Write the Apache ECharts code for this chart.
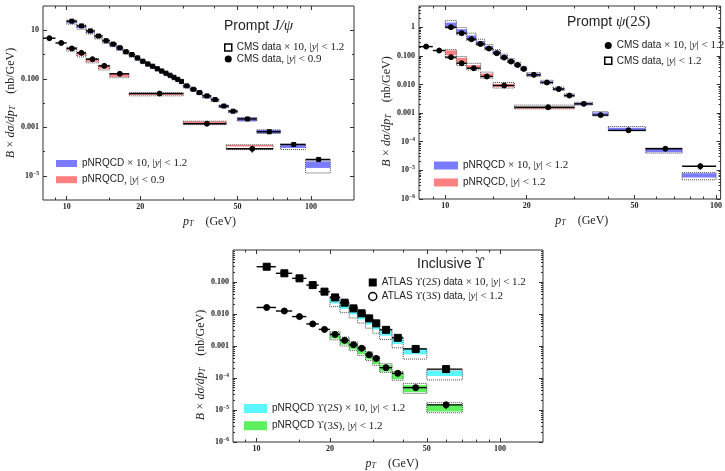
<!DOCTYPE html>
<html lang="en">
<head>
<meta charset="utf-8">
<title>Prompt J/psi, psi(2S) and inclusive Upsilon cross sections</title>
<script src="https://cdn.jsdelivr.net/npm/echarts@6/dist/echarts.min.js"></script>
<style>
    html, body { margin: 0; padding: 0; background: #fff; }
    #main { width: 725px; height: 471px; }
</style>
</head>
<body>
<div id="main"></div>
<script type="text/javascript">
    // ---- Prompt J/psi (top left) ----
    var jpsiEdges12 = [10,11,12,13,14,15,16,17,18,19,20,21,22,23,24,25,26,27,28,29,30,32,34,36,39,42,46,50,60,75,95,120];
    var jpsiData12 = [23.7,15.1,9.4,5.8,3.7,2.7,1.9,1.3,1.0,0.73,0.53,0.41,0.33,0.26,0.21,0.17,0.14,0.115,0.095,0.078,0.051,0.037,0.027,0.0196,0.0138,0.0075,0.0046,0.0022,6.5e-4,1.95e-4,4.7e-5];
    var jpsiErr12 = [0.6,0.4,0.25,0.15,0.1,0.07,0.05,0.035,0.027,0.02,0.014,0.011,0.009,0.007,0.006,0.005,0.004,0.0035,0.003,0.0025,0.0017,0.0013,0.001,0.0008,0.0006,0.0004,0.00025,0.00013,4.5e-5,1.6e-5,7e-6];
    var jpsiBandLo12 = [17.8,11,7.0,4.4,2.9,2.1,1.5,1.05,0.78,0.57,0.42,0.32,0.26,0.205,0.165,0.135,0.11,0.09,0.075,0.062,0.042,0.031,0.022,0.016,0.0115,0.0064,0.0039,0.0018,5.6e-4,1.2e-4,1.3e-5];
    var jpsiBandHi12 = [26,16.6,10.3,6.4,4.1,2.95,2.1,1.45,1.08,0.79,0.58,0.44,0.35,0.28,0.225,0.182,0.148,0.122,0.1,0.083,0.055,0.04,0.029,0.021,0.015,0.0082,0.005,0.0025,7.8e-4,2.0e-4,4.2e-5];
    var jpsiFillLo12 = [19.5,12.3,7.8,4.9,3.2,null,null,null,null,null,null,null,null,null,null,null,null,null,null,null,null,null,null,null,null,null,null,null,null,1.4e-4,2.1e-5];
    var jpsiFillHi12 = [24.5,15.5,9.6,6.0,3.9,null,null,null,null,null,null,null,null,null,null,null,null,null,null,null,null,null,null,null,null,null,null,null,null,1.95e-4,3.9e-5];

    var jpsiEdges09 = [8,9,10,11,12,13.5,15,18,30,45,70];
    var jpsiData09 = [4.7,3.0,1.78,1.17,0.64,0.34,0.16,0.0245,0.0014,1.3e-4];
    var jpsiErr09 = [0.15,0.1,0.07,0.05,0.03,0.015,0.008,0.0012,0.00012,0.00004];
    var jpsiBandEdges09 = [10,11,12,13.5,15,18,30,45,70];
    var jpsiBandLo09 = [1.37,0.80,0.45,0.23,0.11,0.0198,0.00128,1.2e-4];
    var jpsiBandHi09 = [2.0,1.25,0.68,0.36,0.165,0.026,0.00178,1.9e-4];
    var jpsiFillLo09 = [1.55,0.9,0.5,0.26,0.12,0.0215,0.00145,1.6e-4];
    var jpsiFillHi09 = [1.9,1.18,0.64,0.34,0.158,0.0245,0.00172,1.85e-4];

    // ---- Prompt psi(2S) (top right) ----
    var psiEdges12x = [10,11,12,13,14,15,16,17,18,19,20,22.5,25,27.5,30,35,40,55,75,100];
    var psiData12x = [1.0,0.62,0.38,0.26,0.18,0.124,0.087,0.063,0.048,0.035,0.0217,0.0117,0.0069,0.0041,0.0021,8.5e-4,2.5e-4,5.7e-5,1.4e-5];
    var psiErr12x = [0.05,0.03,0.02,0.013,0.009,0.006,0.0045,0.0033,0.0025,0.0019,0.0012,0.0007,0.0004,0.00025,0.00013,6e-5,2.2e-5,8e-6,3.5e-6];
    var psiBandLo12x = [0.92,0.54,0.34,0.23,0.16,0.11,0.077,0.056,0.042,0.031,0.019,0.0105,0.0062,0.0037,0.0019,8.0e-4,2.4e-4,4.0e-5,4.7e-6];
    var psiBandHi12x = [1.7,0.97,0.62,0.38,0.25,0.165,0.115,0.08,0.06,0.043,0.026,0.014,0.0081,0.0047,0.0024,1.13e-3,3.4e-4,6.0e-5,8.4e-6];
    var psiFillLo12x = [1.0,0.6,0.37,0.25,0.17,0.115,0.08,0.058,0.044,0.032,0.02,0.011,0.0065,0.0038,0.00195,8.4e-4,2.5e-4,4.3e-5,5.6e-6];
    var psiFillHi12x = [1.45,0.85,0.52,0.33,0.22,0.15,0.105,0.074,0.055,0.04,0.024,0.013,0.0076,0.0044,0.0023,1.05e-3,3.1e-4,5.6e-5,8.0e-6];

    var psiEdges12 = [8,9,10,11,12,13.5,15,18,30];
    var psiData12 = [0.21,0.153,0.09,0.055,0.037,0.019,0.0092,0.0016];
    var psiErr12 = [0.012,0.008,0.006,0.004,0.0025,0.0013,0.0007,0.00015];
    var psiBandEdges12 = [10,11,12,13.5,15,18,30];
    var psiBandLo12 = [0.083,0.046,0.032,0.0165,0.0075,0.0014];
    var psiBandHi12 = [0.165,0.094,0.055,0.027,0.0117,0.0019];
    var psiFillLo12 = [0.105,0.058,0.036,0.0185,0.0082,0.00142];
    var psiFillHi12 = [0.155,0.085,0.047,0.024,0.0105,0.00152];

    // ---- Inclusive Upsilon (bottom) ----
    var upsEdges = [10,12,14,16,18,20,22,24,26,28,30,32,36,40,50,70];
    var ups2S = [0.30,0.187,0.13,0.08,0.05,0.033,0.0226,0.015,0.0105,0.0073,0.0051,0.0032,0.0018,8.1e-4,1.9e-4];
    var ups2SErr = [0.02,0.012,0.008,0.005,0.003,0.002,0.0014,0.001,0.0007,0.0005,0.00035,0.00025,0.00015,8e-5,3e-5];
    var ups3S = [0.016,0.0124,0.0083,0.0049,0.0033,0.0023,0.0015,0.0011,8.5e-4,5.3e-4,4.1e-4,2.1e-4,1.4e-4,5.0e-5,1.45e-5];
    var ups3SErr = [0.001,0.0008,0.0006,0.0004,0.0003,0.0002,0.00014,0.0001,8e-5,6e-5,5e-5,3e-5,2.5e-5,8e-6,3.5e-6];
    var upsBandEdges = [20,22,24,26,28,30,32,36,40,50,70];
    var band2SLo = [0.017,0.011,0.0075,0.0052,0.0036,0.0025,0.0016,0.00088,3.9e-4,8.7e-5];
    var band2SHi = [0.035,0.024,0.016,0.011,0.0077,0.0054,0.0034,0.0019,8.4e-4,1.8e-4];
    var fill2SLo = [0.0216,0.0145,0.0098,0.0068,0.0047,0.0033,0.0021,0.00115,5.5e-4,1.15e-4];
    var fill2SHi = [0.031,0.021,0.014,0.0098,0.0068,0.0047,0.003,0.0017,8.1e-4,1.7e-4];
    var band3SLo = [0.00155,0.001,7.2e-4,5.0e-4,3.5e-4,2.5e-4,1.5e-4,8.5e-5,3.3e-5,8.2e-6];
    var band3SHi = [0.0028,0.0019,0.00135,9.5e-4,6.6e-4,4.7e-4,2.8e-4,1.6e-4,6.8e-5,1.7e-5];
    var fill3SLo = [0.0017,0.0011,7.9e-4,5.5e-4,3.8e-4,2.7e-4,1.6e-4,9.2e-5,3.6e-5,9e-6];
    var fill3SHi = [0.0026,0.0017,0.00125,8.8e-4,6.1e-4,4.4e-4,2.6e-4,1.5e-4,6.0e-5,1.5e-5];

    var blue = '#7b7bff', red = '#ff8080', cyan = '#5cf6ff', green = '#5ff05f';

    // rows: [x0, x1, xc, value, value-err, value+err]
    function binRows(edges, vals, errs) {
        return vals.map(function (v, i) {
            var x0 = edges[i], x1 = edges[i + 1];
            return [x0, x1, (x0 + x1) / 2, v, v - errs[i], v + errs[i]];
        });
    }
    // rows: [x0, x1, boxLo, boxHi, fillLo, fillHi]
    function bandRows(edges, lo, hi, flo, fhi) {
        return lo.map(function (l, i) {
            var a = (flo && flo[i] != null) ? flo[i] : l;
            var b = (fhi && fhi[i] != null) ? fhi[i] : hi[i];
            return [edges[i], edges[i + 1], l, hi[i], a, b];
        });
    }

    function bandRender(color) {
        return function (params, api) {
            var p0 = api.coord([api.value(0), api.value(3)]);
            var p1 = api.coord([api.value(1), api.value(2)]);
            var f0 = api.coord([api.value(0), api.value(5)]);
            var f1 = api.coord([api.value(1), api.value(4)]);
            var box = {x: p0[0], y: p0[1], width: p1[0] - p0[0], height: p1[1] - p0[1]};
            return {
                type: 'group',
                children: [
                    {type: 'rect', shape: box, style: {fill: '#fff'}},
                    {type: 'rect', shape: {x: f0[0], y: f0[1], width: f1[0] - f0[0], height: f1[1] - f0[1]}, style: {fill: color}},
                    {type: 'rect', shape: box, style: {fill: null, stroke: '#333', lineWidth: 0.9, lineDash: [1, 1]}}
                ]
            };
        };
    }

    function dataRender(params, api) {
        var a = api.coord([api.value(0), api.value(3)]);
        var b = api.coord([api.value(1), api.value(3)]);
        var lo = api.coord([api.value(2), api.value(4)]);
        var hi = api.coord([api.value(2), api.value(5)]);
        var st = {stroke: '#000', lineWidth: 1.4};
        return {
            type: 'group',
            children: [
                {type: 'line', shape: {x1: a[0], y1: a[1], x2: b[0], y2: b[1]}, style: st},
                {type: 'line', shape: {x1: lo[0], y1: lo[1], x2: hi[0], y2: hi[1]}, style: st}
            ]
        };
    }

    var tickStyle = {fontFamily: 'Liberation Serif', fontWeight: 'bold', fontSize: 8, color: '#222'};
    var labelRich = {
        b: {fontFamily: 'Liberation Serif', fontWeight: 'bold', fontSize: 8, color: '#222'},
        e: {fontFamily: 'Liberation Serif', fontWeight: 'bold', fontSize: 5.5, color: '#222', padding: [0, 0, 5, 0]}
    };
    var nameRich = {
        m: {fontFamily: 'Liberation Serif', fontStyle: 'italic', fontSize: 12, color: '#222'},
        n: {fontFamily: 'Liberation Serif', fontSize: 12, color: '#222'},
        sub: {fontFamily: 'Liberation Serif', fontStyle: 'italic', fontSize: 8, color: '#222', padding: [5, 0, 0, 0]}
    };

    function yLabel(v) {
        var e = Math.round(Math.log10(v));
        if (e >= 1) return String(Math.round(v));
        if (e === 0) return '1';
        if (e >= -3) return v.toFixed(3);
        return '{b|10}{e|\u2212' + (-e) + '}';
    }

    var xAxes = [], yAxes = [];
    function tick(vals, len) {
        return {show: true, inside: true, length: len, customValues: vals, lineStyle: {color: '#333', width: 1}};
    }
    function addPanel(p) {
        var xi = xAxes.length, yi = yAxes.length;
        var common = {type: 'log', logBase: 10, gridIndex: p.grid, axisLine: {show: false}, splitLine: {show: false}};
        var xc = Object.assign({}, common, {min: p.xMin, max: p.xMax});
        var yc = Object.assign({}, common, {min: p.yMin, max: p.yMax});
        var xMajor = [10, 20, 50, 100];
        xAxes.push(Object.assign({}, xc, {
            position: 'bottom', axisTick: tick(xMajor, 4),
            axisLabel: Object.assign({customValues: xMajor, margin: 3}, tickStyle),
            name: '{m|p}{sub|T}{n|    (GeV)}', nameLocation: 'middle', nameGap: 15,
            nameTextStyle: {rich: nameRich, padding: [0, 0, 0, p.xShift * 2]}
        }));
        xAxes.push(Object.assign({}, xc, {position: 'top', axisTick: tick(xMajor, 4), axisLabel: {show: false}}));
        xAxes.push(Object.assign({}, xc, {position: 'bottom', axisTick: tick(p.xMinor, 2.5), axisLabel: {show: false}}));
        xAxes.push(Object.assign({}, xc, {position: 'top', axisTick: tick(p.xMinor, 2.5), axisLabel: {show: false}}));
        yAxes.push(Object.assign({}, yc, {
            position: 'left', axisTick: tick(p.yMajor, 4),
            axisLabel: Object.assign({customValues: p.yLabels, margin: 4, formatter: yLabel, rich: labelRich}, tickStyle),
            name: '{m|B} {n|\u00d7} {m|d\u03c3/dp}{sub|T}{n|    (nb/GeV)}', nameLocation: 'middle', nameGap: 26, nameRotate: 90,
            nameTextStyle: {rich: nameRich, padding: [0, p.yShift * 2, 0, 0]}
        }));
        yAxes.push(Object.assign({}, yc, {position: 'right', axisTick: tick(p.yMajor, 4), axisLabel: {show: false}}));
        yAxes.push(Object.assign({}, yc, {position: 'left', axisTick: tick(p.yMinor, 2), axisLabel: {show: false}}));
        yAxes.push(Object.assign({}, yc, {position: 'right', axisTick: tick(p.yMinor, 2), axisLabel: {show: false}}));
        return {x: xi, y: yi};
    }

    function subDecades(lo, hi) {
        var out = [];
        for (var e = lo; e < hi; e++) {
            for (var k = 2; k <= 9; k++) out.push(k * Math.pow(10, e));
        }
        return out;
    }

    var xMinor = [9, 15, 30, 40, 60, 70, 80, 90];
    var ax1 = addPanel({grid: 0, xMin: 8, xMax: 150, yMin: 1e-6, yMax: 100, xMinor: xMinor,
        yMajor: [1e-5, 1e-3, 0.1, 10], yLabels: [1e-5, 1e-3, 0.1, 10], yMinor: [1e-4, 0.01, 1],
        xShift: 11, yShift: 0});
    var ax2 = addPanel({grid: 1, xMin: 8, xMax: 104, yMin: 1e-6, yMax: 5.5, xMinor: xMinor,
        yMajor: [1e-6, 1e-5, 1e-4, 1e-3, 0.01, 0.1, 1], yLabels: [1e-6, 1e-5, 1e-4, 1e-3, 0.01, 0.1, 1],
        yMinor: subDecades(-6, 1), xShift: 12, yShift: 9});
    var ax3 = addPanel({grid: 2, xMin: 8, xMax: 150, yMin: 1e-6, yMax: 1, xMinor: xMinor,
        yMajor: [1e-6, 1e-5, 1e-4, 1e-3, 0.01, 0.1], yLabels: [1e-6, 1e-5, 1e-4, 1e-3, 0.01, 0.1],
        yMinor: subDecades(-6, 0), xShift: 4, yShift: 19});

    var series = [];
    function addBand(ax, name, color, rows) {
        series.push({
            name: name, type: 'custom', xAxisIndex: ax.x, yAxisIndex: ax.y,
            itemStyle: {color: color}, renderItem: bandRender(color),
            encode: {x: [0, 1], y: [2, 3, 4, 5]}, data: rows, clip: true, z: 2
        });
    }
    function addData(ax, name, rows, symbol, size, fill) {
        series.push({
            name: name + 'Bars', type: 'custom', xAxisIndex: ax.x, yAxisIndex: ax.y,
            renderItem: dataRender, encode: {x: [0, 1, 2], y: [3, 4, 5]}, data: rows, z: 3
        });
        series.push({
            name: name, type: 'scatter', xAxisIndex: ax.x, yAxisIndex: ax.y,
            symbol: symbol, symbolSize: size,
            itemStyle: {color: fill || '#000', borderColor: '#000', borderWidth: 1, opacity: 1},
            data: rows.map(function (r) { return [r[2], r[3]]; }), z: 4
        });
    }

    addBand(ax1, 'jpsiBand12', blue, bandRows(jpsiEdges12, jpsiBandLo12, jpsiBandHi12, jpsiFillLo12, jpsiFillHi12));
    addBand(ax1, 'jpsiBand09', red, bandRows(jpsiBandEdges09, jpsiBandLo09, jpsiBandHi09, jpsiFillLo09, jpsiFillHi09));
    addData(ax1, 'jpsiData12', binRows(jpsiEdges12, jpsiData12, jpsiErr12), 'rect', 4);
    addData(ax1, 'jpsiData09', binRows(jpsiEdges09, jpsiData09, jpsiErr09), 'circle', 5);

    addBand(ax2, 'psiBand12x', blue, bandRows(psiEdges12x, psiBandLo12x, psiBandHi12x, psiFillLo12x, psiFillHi12x));
    addBand(ax2, 'psiBand12', red, bandRows(psiBandEdges12, psiBandLo12, psiBandHi12, psiFillLo12, psiFillHi12));
    addData(ax2, 'psiData12x', binRows(psiEdges12x, psiData12x, psiErr12x), 'circle', 5);
    addData(ax2, 'psiData12', binRows(psiEdges12, psiData12, psiErr12), 'circle', 5);

    addBand(ax3, 'upsBand2S', cyan, bandRows(upsBandEdges, band2SLo, band2SHi, fill2SLo, fill2SHi));
    addBand(ax3, 'upsBand3S', green, bandRows(upsBandEdges, band3SLo, band3SHi, fill3SLo, fill3SHi));
    addData(ax3, 'ups2S', binRows(upsEdges, ups2S, ups2SErr), 'rect', 7);
    addData(ax3, 'ups3S', binRows(upsEdges, ups3S, ups3SErr), 'circle', 6);

    var legendLabels = {
        jpsiData12: '{s|CMS data }{n|\u00d7 10, |}{m|y}{n|| < 1.2}',
        jpsiData09: '{s|CMS data}{n|, |}{m|y}{n|| < 0.9}',
        jpsiBand12: '{s|pNRQCD }{n|\u00d7 10, |}{m|y}{n|| < 1.2}',
        jpsiBand09: '{s|pNRQCD}{n|, |}{m|y}{n|| < 0.9}',
        psiData12x: '{s|CMS data }{n|\u00d7 10, |}{m|y}{n|| < 1.2}',
        psiData12: '{s|CMS data}{n|, |}{m|y}{n|| < 1.2}',
        psiBand12x: '{s|pNRQCD }{n|\u00d7 10, |}{m|y}{n|| < 1.2}',
        psiBand12: '{s|pNRQCD}{n|, |}{m|y}{n|| < 1.2}',
        ups2S: '{s|ATLAS }{u|\u03d2}{n|(2}{m|S}{n|) }{s|data }{n|\u00d7 10, |}{m|y}{n|| < 1.2}',
        ups3S: '{s|ATLAS }{u|\u03d2}{n|(3}{m|S}{n|) }{s|data}{n|, |}{m|y}{n|| < 1.2}',
        upsBand2S: '{s|pNRQCD }{u|\u03d2}{n|(2}{m|S}{n|) \u00d7 10, |}{m|y}{n|| < 1.2}',
        upsBand3S: '{s|pNRQCD }{u|\u03d2}{n|(3}{m|S}{n|), |}{m|y}{n|| < 1.2}'
    };
    var legendRich = {
        s: {fontFamily: 'Liberation Sans', fontSize: 10, color: '#222', lineHeight: 13},
        n: {fontFamily: 'Liberation Serif', fontSize: 11, color: '#222', lineHeight: 13},
        m: {fontFamily: 'Liberation Serif', fontStyle: 'italic', fontSize: 11, color: '#222', lineHeight: 13},
        u: {fontFamily: 'DejaVu Serif', fontSize: 10, color: '#222', lineHeight: 13}
    };
    function makeLegend(left, top, w, h, gap, items) {
        return {
            left: left, top: top, orient: 'vertical', padding: 0, itemWidth: w, itemHeight: h, itemGap: gap,
            selectedMode: false, data: items,
            formatter: function (name) { return legendLabels[name]; },
            textStyle: {rich: legendRich}
        };
    }
    var openBox = {color: '#fff', borderColor: '#000', borderWidth: 1.5};
    var dot = {color: '#000', borderWidth: 0};

    var titleRich = {
        s: {fontFamily: 'Liberation Sans', fontWeight: 'normal', fontSize: 14, color: '#222'},
        m: {fontFamily: 'Liberation Serif', fontWeight: 'normal', fontStyle: 'italic', fontSize: 15, color: '#222'},
        n: {fontFamily: 'Liberation Serif', fontWeight: 'normal', fontSize: 15, color: '#222'},
        u: {fontFamily: 'DejaVu Serif', fontWeight: 'normal', fontSize: 14, color: '#222'}
    };
    var titleStyle = {fontWeight: 'normal', rich: titleRich};

    var chart = echarts.init(document.getElementById('main'));
    chart.setOption({
        animation: false,
        backgroundColor: '#fff',
        title: [
            {text: '{s|Prompt }{m|J/\u03c8}', left: 224, top: 19, padding: 0, textStyle: titleStyle},
            {text: '{s|Prompt }{m|\u03c8}{n|(2}{m|S}{n|)}', left: 567, top: 15, padding: 0, textStyle: titleStyle},
            {text: '{s|Inclusive }{u|\u03d2}', left: 417, top: 257, padding: 0, textStyle: titleStyle}
        ],
        legend: [
            makeLegend(224, 42, 7, 7, 0.4, [
                {name: 'jpsiData12', icon: 'rect', itemStyle: openBox},
                {name: 'jpsiData09', icon: 'circle', itemStyle: dot}]),
            makeLegend(56, 158, 21, 7, 5.2, [
                {name: 'jpsiBand12', icon: 'rect', itemStyle: {color: blue}},
                {name: 'jpsiBand09', icon: 'rect', itemStyle: {color: red}}]),
            makeLegend(604, 40, 7, 7, 4.3, [
                {name: 'psiData12x', icon: 'circle', itemStyle: dot},
                {name: 'psiData12', icon: 'rect', itemStyle: openBox}]),
            makeLegend(434, 160, 24, 8, 6, [
                {name: 'psiBand12x', icon: 'rect', itemStyle: {color: blue}},
                {name: 'psiBand12', icon: 'rect', itemStyle: {color: red}}]),
            makeLegend(368, 277, 8, 8, 3, [
                {name: 'ups2S', icon: 'rect', itemStyle: dot},
                {name: 'ups3S', icon: 'circle', itemStyle: openBox}]),
            makeLegend(244, 403, 23, 9, 6.2, [
                {name: 'upsBand2S', icon: 'rect', itemStyle: {color: cyan}},
                {name: 'upsBand3S', icon: 'rect', itemStyle: {color: green}}])
        ],
        grid: [
            {left: 43, top: 6, width: 311, height: 194, show: true, borderColor: '#333', borderWidth: 1, backgroundColor: 'transparent'},
            {left: 419, top: 6, width: 304, height: 193, show: true, borderColor: '#333', borderWidth: 1, backgroundColor: 'transparent'},
            {left: 233, top: 250, width: 310, height: 192, show: true, borderColor: '#333', borderWidth: 1, backgroundColor: 'transparent'}
        ],
        xAxis: xAxes,
        yAxis: yAxes,
        series: series
    });
</script>
</body>
</html>
